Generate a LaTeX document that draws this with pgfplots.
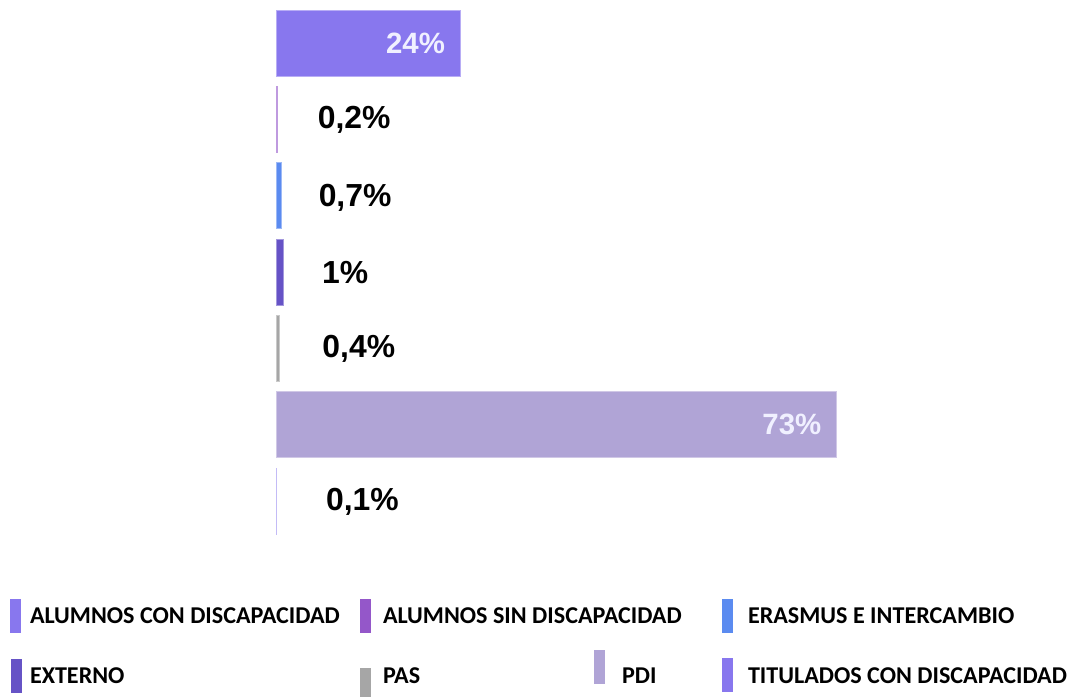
\documentclass[border=0pt]{standalone}
\usepackage{fontspec}
\setmainfont{Liberation Sans}
\newfontfamily\legendfont{Carlito}
\usepackage{pgfplots}
\pgfplotsset{compat=1.18}
\definecolor{cA}{HTML}{8877EE}
\definecolor{cB}{HTML}{9457C9}
\definecolor{cC}{HTML}{5B8BF0}
\definecolor{cD}{HTML}{6653C6}
\definecolor{cE}{HTML}{A6A6A6}
\definecolor{cF}{HTML}{B0A4D6}
\definecolor{cG}{HTML}{8877EE}
\definecolor{inlab}{HTML}{F0F0FF}
\begin{document}
\begin{tikzpicture}
\begin{axis}[
  at={(276bp,-4.83bp)}, anchor=north west,
  scale only axis, width=768bp, height=534.33bp,
  xmin=0, xmax=100, ymin=-0.5, ymax=6.5, y dir=reverse,
  hide axis,
  xbar, bar shift=0pt, bar width=66bp,
  nodes near coords style={anchor=west, inner sep=0pt, text depth=0pt, text=black,
    font=\bfseries\fontsize{32}{36}\selectfont},
  legend columns=4, legend cell align=left,
  legend style={at={(-0.34635,-0.1119)}, anchor=north west, draw=none, fill=none,
    inner sep=0pt, outer sep=0pt, column sep=0pt, row sep=17bp,
    nodes={inner sep=0pt, text depth=},
    font=\legendfont\bfseries\fontsize{24.2}{28}\selectfont},
]
\addplot[fill=cA, draw=cA!60!white, line width=0.75bp,
  legend image code/.code={\fill[cA, draw=none] (0bp,-17bp) rectangle (11bp,17bp); \path[fill=none, draw=none] (0bp,-17bp) rectangle (20bp,17bp);},
  nodes near coords={24\%},
  nodes near coords style={anchor=east, xshift=-15bp, text=inlab, font=\bfseries\fontsize{29.5}{32}\selectfont}]
  coordinates {(24,0)};
\addlegendentry{\makebox[330bp][l]{ALUMNOS CON DISCAPACIDAD}}
\addplot[fill=cB, draw=cB!60!white, line width=0.75bp,
  legend image code/.code={\fill[cB, draw=none] (0bp,-17bp) rectangle (11bp,17bp); \path[fill=none, draw=none] (0bp,-17bp) rectangle (23bp,17bp);},
  nodes near coords={0{,}2\%},
  nodes near coords style={xshift=40bp, yshift=1.5bp}]
  coordinates {(0.2,1)};
\addlegendentry{\makebox[211bp][l]{ALUMNOS SIN DISCAPACIDAD}}
\addlegendimage{empty legend}
\addlegendentry{}
\addplot[fill=cC, draw=cC!60!white, line width=0.75bp,
  legend image code/.code={\fill[cC, draw=none] (0bp,-17bp) rectangle (11bp,17bp); \path[fill=none, draw=none] (0bp,-17bp) rectangle (26bp,17bp);},
  nodes near coords={0{,}7\%},
  nodes near coords style={xshift=37bp}]
  coordinates {(0.7,2)};
\addlegendentry{ERASMUS E INTERCAMBIO}
\addplot[fill=cD, draw=cD!60!white, line width=0.75bp,
  legend image code/.code={\fill[cD, draw=none] (1bp,-17bp) rectangle (12bp,17bp); \path[fill=none, draw=none] (0bp,-17bp) rectangle (20bp,17bp);},
  nodes near coords={1\%},
  nodes near coords style={xshift=38bp}]
  coordinates {(1,3)};
\addlegendentry{\makebox[330bp][l]{EXTERNO}}
\addplot[fill=cE, draw=cE!60!white, line width=0.75bp,
  legend image code/.code={\fill[cE, draw=none] (0bp,-26bp) rectangle (11bp,8bp); \path[fill=none, draw=none] (0bp,-26bp) rectangle (23bp,26bp);},
  nodes near coords={0{,}4\%},
  nodes near coords style={xshift=43bp, yshift=2bp}]
  coordinates {(0.4,4)};
\addlegendentry{\makebox[211bp][l]{PAS}}
\addplot[fill=cF, draw=cF!60!white, line width=0.75bp,
  legend image code/.code={\fill[cF, draw=none] (0bp,-8bp) rectangle (11bp,26bp); \path[fill=none, draw=none] (0bp,-26bp) rectangle (28bp,26bp);},
  nodes near coords={73\%},
  nodes near coords style={anchor=east, xshift=-15bp, text=inlab, font=\bfseries\fontsize{29.5}{32}\selectfont}]
  coordinates {(73,5)};
\addlegendentry{\makebox[100bp][l]{PDI}}
\addplot[fill=cG!60!white, draw=cG!50!white, line width=0.75bp,
  legend image code/.code={\fill[cG, draw=none] (0bp,-16bp) rectangle (11bp,18bp); \path[fill=none, draw=none] (0bp,-17bp) rectangle (26bp,17bp);},
  nodes near coords={0{,}1\%},
  nodes near coords style={xshift=49bp, yshift=2bp}]
  coordinates {(0.1,6)};
\addlegendentry{TITULADOS CON DISCAPACIDAD}
\end{axis}
\pgfresetboundingbox
\path[use as bounding box] (0bp,0bp) rectangle (1072bp,-697bp);
\end{tikzpicture}
\end{document}
